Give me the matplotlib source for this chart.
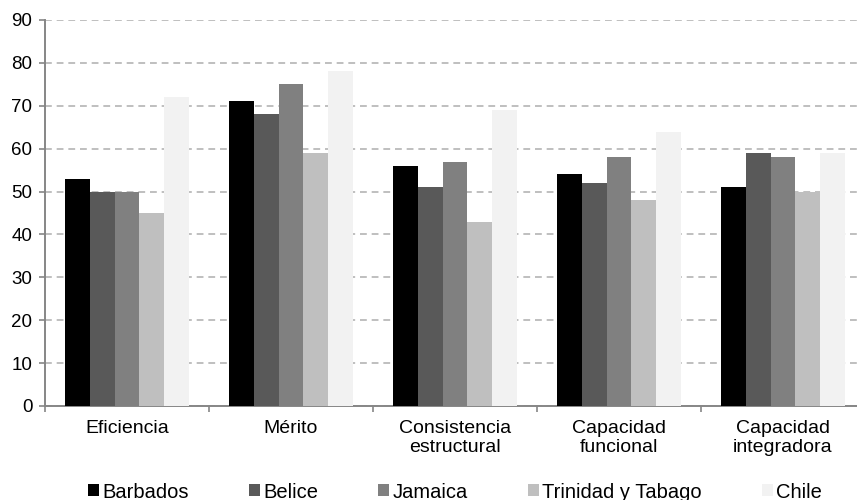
import matplotlib
matplotlib.use("Agg")
import matplotlib.pyplot as plt
import numpy as np

categories = ["Eficiencia", "Mérito", "Consistencia\nestructural",
              "Capacidad\nfuncional", "Capacidad\nintegradora"]
series_names = ["Barbados", "Belice", "Jamaica", "Trinidad y Tabago", "Chile"]
barbados = [53, 71, 56, 54, 51]
belice = [50, 68, 51, 52, 59]
jamaica = [50, 75, 57, 58, 58]
trinidad = [45, 59, 43, 48, 50]
chile = [72, 78, 69, 64, 59]
colors = ["#000000", "#595959", "#808080", "#BFBFBF", "#F2F2F2"]
yticks = list(range(0, 91, 10))

plt.rcParams['font.family'] = ['Liberation Sans', 'DejaVu Sans']
fig = plt.figure(figsize=(8.57, 5.0), dpi=100)
ax = fig.add_axes([45/857, 1-406/500, 820/857, 386/500])

data = [barbados, belice, jamaica, trinidad, chile]
x = np.arange(len(categories))
bw = 0.151
for i, (name, vals, c) in enumerate(zip(series_names, data, colors)):
    ax.bar(x + (i - 2) * bw, vals, width=bw, color=c, label=name, zorder=3,
           edgecolor='none')

ax.set_xlim(-0.5, len(categories) - 0.5)
ax.set_ylim(0, 90)
ax.set_yticks(yticks)
ax.yaxis.grid(True, color='#BFBFBF', linewidth=1.4, linestyle=(0, (3.5, 2.5)), zorder=0)
ax.set_axisbelow(True)

ax.set_xticks(x)
ax.set_xticklabels(categories, fontsize=14, linespacing=1.2)
ax.set_xticks(np.arange(-0.5, len(categories), 1.0), minor=True)
ax.tick_params(axis='x', which='major', length=0, pad=10)
ax.tick_params(axis='x', which='minor', length=4, width=1.2, color='#868686', direction='out')
ax.tick_params(axis='y', length=4, width=1.2, color='#868686', direction='out', labelsize=13.5, pad=5)

for s in ['top', 'right']:
    ax.spines[s].set_visible(False)
for s in ['left', 'bottom']:
    ax.spines[s].set_color('#868686')
    ax.spines[s].set_linewidth(1.4)

leg = fig.legend(loc='center', bbox_to_anchor=(0.531, 0.016), ncol=5, frameon=False,
                 fontsize=14.5, handlelength=0.55, handleheight=0.55,
                 handletextpad=0.15, columnspacing=3.0, borderaxespad=0)

fig.savefig("out.png", dpi=100)
